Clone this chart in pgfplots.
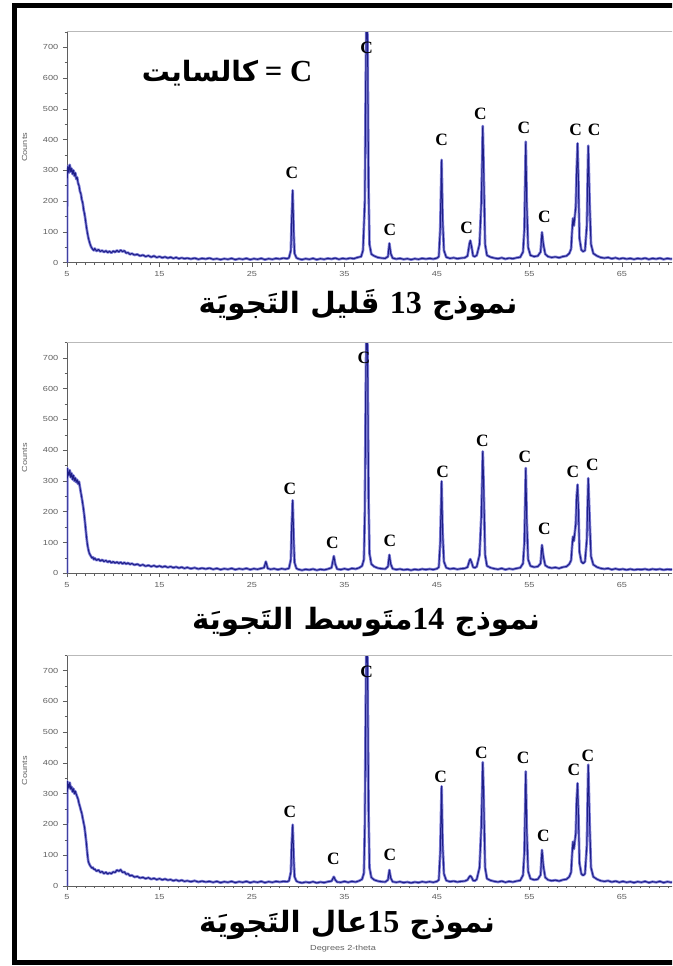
\documentclass[border=0pt]{standalone}
\usepackage{fontspec}
\setmainfont{Liberation Serif}
\newfontfamily\arabicfont[Script=Arabic]{DejaVu Sans}
\newfontfamily\tickfont[FakeStretch=1.25]{Liberation Sans}
\usepackage{pgfplots}
\usepackage{pgfplotstable}
\pgfplotsset{compat=1.18}
\TeXXeTstate=1
\definecolor{xrdline}{RGB}{30,30,135}
\definecolor{xrdhalo}{RGB}{125,125,215}
\definecolor{axgray}{RGB}{95,95,95}

% one scan per sample: 2-theta, counts
\pgfplotstableread{
x y
5.00 0
5.03 305
5.10 314
5.20 292
5.30 318
5.40 296
5.50 306
5.60 288
5.70 300
5.80 282
5.90 292
6.00 272
6.10 277
6.20 258
6.30 250
6.40 232
6.50 224
6.60 205
6.70 194
6.80 172
6.90 158
7.00 138
7.10 116
7.20 98
7.30 82
7.40 70
7.50 60
7.60 52
7.70 47
7.80 43
7.90 40
8.00 46
8.20 38
8.40 43
8.60 36
8.80 40
9.00 34
9.20 39
9.40 33
9.60 37
9.80 32
10.0 38
10.2 34
10.4 40
10.6 35
10.8 41
11.0 36
11.2 39
11.4 31
11.6 33
11.8 27
12.0 30
12.3 25
12.6 27
12.9 22
13.2 25
13.5 20
13.8 23
14.1 18
14.4 22
14.7 17
15.0 20
15.3 16
15.6 19
15.9 15
16.2 18
16.5 14
16.8 17
17.1 13
17.4 16
17.7 13
18.0 15
18.4 12
18.8 15
19.2 11
19.6 14
20.0 12
20.4 15
20.8 11
21.2 13
21.6 10
22.0 13
22.4 11
22.8 14
23.2 10
23.6 13
24.0 11
24.4 14
24.8 10
25.2 13
25.6 11
26.0 14
26.4 10
26.8 13
27.2 11
27.6 14
28.0 12
28.4 15
28.8 13
29.0 16
29.2 40
29.3 150
29.4 235
29.5 110
29.6 30
29.8 16
30.0 13
30.4 10
30.8 13
31.2 11
31.6 14
32.0 10
32.4 13
32.8 11
33.2 14
33.6 12
34.0 15
34.4 11
34.8 14
35.2 12
35.6 15
36.0 13
36.4 17
36.8 20
37.0 40
37.2 200
37.3 600
37.4 900
37.5 700
37.6 250
37.7 60
37.9 28
38.2 22
38.6 17
39.0 15
39.4 14
39.7 20
39.85 63
40.0 30
40.2 15
40.6 12
41.0 14
41.4 11
41.8 13
42.2 10
42.6 13
43.0 11
43.4 14
43.8 12
44.2 14
44.6 12
45.0 15
45.2 20
45.35 110
45.5 334
45.6 150
45.75 40
46.0 18
46.4 14
46.8 16
47.2 13
47.6 15
48.0 16
48.3 22
48.5 60
48.6 72
48.75 50
48.9 22
49.1 20
49.3 24
49.6 60
49.8 200
49.95 444
50.05 300
50.2 60
50.4 24
50.8 18
51.2 15
51.6 13
52.0 16
52.4 12
52.8 15
53.2 13
53.6 16
54.0 18
54.3 35
54.45 110
54.6 393
54.7 200
54.85 50
55.1 24
55.5 20
55.9 22
56.2 35
56.35 99
56.5 60
56.7 28
57.0 20
57.4 17
57.8 19
58.2 16
58.6 20
59.0 22
59.3 30
59.5 45
59.6 100
59.7 144
59.8 120
60.0 180
60.1 300
60.2 388
60.3 250
60.4 80
60.6 42
60.8 36
61.0 40
61.2 120
61.35 380
61.5 200
61.65 60
61.9 30
62.3 22
62.7 17
63.1 15
63.5 17
63.9 13
64.3 16
64.7 12
65.1 15
65.5 12
65.9 14
66.3 11
66.7 14
67.1 12
67.5 15
67.9 11
68.3 14
68.7 12
69.1 15
69.5 11
69.9 14
70.3 12
70.7 14
71.1 12
71.5 13
72.0 12
}\scanA

\pgfplotstableread{
x y
5.00 0
5.03 342
5.10 330
5.20 318
5.30 335
5.40 312
5.50 325
5.60 305
5.70 318
5.80 300
5.90 310
6.00 296
6.10 304
6.20 290
6.30 298
6.40 280
6.50 262
6.60 245
6.70 226
6.80 205
6.90 180
7.00 150
7.10 120
7.20 95
7.30 78
7.40 66
7.50 60
7.60 55
7.70 50
7.80 52
7.90 45
8.00 49
8.20 42
8.40 46
8.60 40
8.80 44
9.00 38
9.20 42
9.40 36
9.60 40
9.80 34
10.0 38
10.2 33
10.4 37
10.6 32
10.8 36
11.0 31
11.2 35
11.4 30
11.6 34
11.8 29
12.0 32
12.3 27
12.6 30
12.9 25
13.2 28
13.5 23
13.8 26
14.1 22
14.4 25
14.7 21
15.0 24
15.3 20
15.6 23
15.9 19
16.2 22
16.5 18
16.8 21
17.1 17
17.4 20
17.7 16
18.0 19
18.4 15
18.8 18
19.2 14
19.6 17
20.0 14
20.4 17
20.8 13
21.2 16
21.6 12
22.0 15
22.4 13
22.8 16
23.2 12
23.6 15
24.0 13
24.4 16
24.8 12
25.2 15
25.6 13
26.0 16
26.3 18
26.5 38
26.7 16
27.0 13
27.4 15
27.8 12
28.2 15
28.6 13
29.0 16
29.2 45
29.3 160
29.4 237
29.5 120
29.6 35
29.8 16
30.0 13
30.4 10
30.8 13
31.2 11
31.6 14
32.0 10
32.4 13
32.8 11
33.2 14
33.6 18
33.85 56
34.0 30
34.2 14
34.6 12
35.0 15
35.4 12
35.8 16
36.2 14
36.6 18
36.9 24
37.1 45
37.2 200
37.3 600
37.4 900
37.5 700
37.6 250
37.7 65
37.9 30
38.2 22
38.6 17
39.0 15
39.4 14
39.7 22
39.85 60
40.0 30
40.2 15
40.6 12
41.0 14
41.4 11
41.8 13
42.2 10
42.6 13
43.0 11
43.4 14
43.8 12
44.2 14
44.6 12
45.0 15
45.2 20
45.35 100
45.5 299
45.6 140
45.75 38
46.0 18
46.4 14
46.8 16
47.2 13
47.6 15
48.0 16
48.3 20
48.5 40
48.6 46
48.75 35
48.9 20
49.1 18
49.3 22
49.6 60
49.8 190
49.95 396
50.05 280
50.2 60
50.4 24
50.8 18
51.2 15
51.6 13
52.0 16
52.4 12
52.8 15
53.2 13
53.6 16
54.0 18
54.3 32
54.45 100
54.6 342
54.7 180
54.85 45
55.1 24
55.5 20
55.9 22
56.2 32
56.35 92
56.5 55
56.7 26
57.0 20
57.4 17
57.8 19
58.2 16
58.6 20
59.0 22
59.3 30
59.5 42
59.6 85
59.7 119
59.8 105
60.0 160
60.1 250
60.2 288
60.3 200
60.4 70
60.6 38
60.8 32
61.0 38
61.2 110
61.35 309
61.5 180
61.65 55
61.9 28
62.3 20
62.7 16
63.1 14
63.5 16
63.9 12
64.3 15
64.7 12
65.1 14
65.5 11
65.9 14
66.3 11
66.7 13
67.1 12
67.5 14
67.9 11
68.3 14
68.7 12
69.1 14
69.5 11
69.9 13
70.3 12
70.7 14
71.1 12
71.5 13
72.0 12
}\scanB

\pgfplotstableread{
x y
5.00 0
5.03 340
5.10 332
5.20 318
5.30 336
5.40 315
5.50 322
5.60 306
5.70 316
5.80 300
5.90 308
6.00 298
6.10 290
6.20 282
6.30 268
6.40 258
6.50 246
6.60 236
6.70 220
6.80 205
6.90 190
7.00 165
7.10 138
7.20 105
7.30 80
7.40 72
7.50 66
7.60 62
7.70 58
7.80 60
7.90 54
8.00 55
8.20 48
8.40 52
8.60 44
8.80 47
9.00 40
9.20 45
9.40 39
9.60 43
9.80 40
10.0 46
10.2 44
10.4 52
10.6 48
10.8 53
11.0 44
11.2 46
11.4 38
11.6 40
11.8 33
12.0 35
12.3 29
12.6 31
12.9 26
13.2 28
13.5 24
13.8 27
14.1 22
14.4 25
14.7 21
15.0 24
15.3 20
15.6 23
15.9 19
16.2 21
16.5 17
16.8 20
17.1 16
17.4 19
17.7 15
18.0 17
18.4 14
18.8 17
19.2 13
19.6 16
20.0 13
20.4 15
20.8 12
21.2 15
21.6 11
22.0 14
22.4 12
22.8 15
23.2 11
23.6 14
24.0 12
24.4 15
24.8 11
25.2 14
25.6 12
26.0 15
26.4 11
26.8 14
27.2 12
27.6 15
28.0 13
28.4 15
28.8 14
29.0 17
29.2 45
29.3 140
29.4 199
29.5 100
29.6 30
29.8 16
30.0 13
30.4 10
30.8 13
31.2 11
31.6 14
32.0 10
32.4 13
32.8 11
33.2 14
33.6 16
33.85 30
34.0 20
34.2 13
34.6 12
35.0 15
35.4 12
35.8 15
36.2 13
36.6 17
36.9 22
37.1 42
37.2 200
37.3 600
37.4 900
37.5 700
37.6 250
37.7 60
37.9 28
38.2 20
38.6 16
39.0 14
39.4 13
39.7 20
39.85 52
40.0 26
40.2 14
40.6 12
41.0 14
41.4 11
41.8 13
42.2 10
42.6 13
43.0 11
43.4 14
43.8 12
44.2 14
44.6 12
45.0 15
45.2 20
45.35 110
45.5 324
45.6 145
45.75 40
46.0 18
46.4 14
46.8 16
47.2 13
47.6 15
48.0 16
48.3 20
48.5 30
48.6 33
48.75 28
48.9 18
49.1 17
49.3 22
49.6 60
49.8 200
49.95 402
50.05 290
50.2 60
50.4 24
50.8 18
51.2 15
51.6 13
52.0 16
52.4 12
52.8 15
53.2 13
53.6 16
54.0 18
54.3 35
54.45 110
54.6 372
54.7 190
54.85 48
55.1 24
55.5 20
55.9 22
56.2 36
56.35 117
56.5 65
56.7 28
57.0 20
57.4 17
57.8 19
58.2 16
58.6 20
59.0 22
59.3 30
59.5 45
59.6 100
59.7 144
59.8 120
60.0 170
60.1 280
60.2 334
60.3 220
60.4 75
60.6 40
60.8 34
61.0 40
61.2 130
61.35 394
61.5 210
61.65 60
61.9 30
62.3 22
62.7 17
63.1 15
63.5 17
63.9 13
64.3 16
64.7 12
65.1 15
65.5 12
65.9 14
66.3 11
66.7 14
67.1 12
67.5 15
67.9 11
68.3 14
68.7 12
69.1 15
69.5 11
69.9 14
70.3 12
70.7 14
71.1 12
71.5 13
72.0 12
}\scanC

\pgfplotsset{
  xrd/.style={
    scale only axis, width=464.8pt, height=173.1pt,
    xmin=5, xmax=72, ymin=0, ymax=750,
    axis x line*=bottom, axis y line*=left,
    axis line style={-, axgray, line width=0.6pt},
    xtick={5,15,...,65}, minor xtick={5,6,...,72},
    ytick={0,100,...,700}, minor ytick={50,150,...,750},
    tick align=outside, major tick length=3pt, minor tick length=1.8pt,
    every tick/.style={axgray, line width=0.45pt},
    ticklabel style={font=\tickfont\fontsize{5.5}{6}\selectfont, text=axgray},
    /pgf/number format/assume math mode=true,
    ylabel={Counts},
    ylabel style={font=\tickfont\fontsize{5.5}{6}\selectfont, text=axgray, yshift=5pt},
    anchor=south west,
  },
  scanhalo/.style={xrdhalo, line width=2.0pt, line join=round},
  scanline/.style={xrdline, line width=0.75pt, line join=round},
}
\newcommand{\clab}[2]{\node[font=\bfseries\fontsize{13}{13}\selectfont, inner sep=0pt] at (axis cs:#1,#2) {C};}

\begin{document}
\begin{tikzpicture}[x=0.75pt,y=0.75pt]
\path[use as bounding box, clip] (0,0) rectangle (672,966);
\coordinate (oa) at (67,703.3);
\coordinate (ob) at (67,392.7);
\coordinate (oc) at (67,80);

% sample 13
\begin{axis}[xrd, name=pa, at={(oa)}]
\addplot[scanhalo] table {\scanA};
\addplot[scanline] table {\scanA};
\clab{29.3}{291}\clab{37.4}{698}\clab{39.9}{106}\clab{45.5}{398}\clab{48.2}{112}
\clab{49.7}{483}\clab{54.4}{439}\clab{56.6}{150}\clab{60.0}{431}\clab{62.0}{431}
\node[inner sep=0pt] at (axis cs:22.3,617)
  {{\arabicfont\bfseries\fontsize{21}{22}\selectfont\beginR كالسايت\endR}\hspace{5pt}{\bfseries\fontsize{23}{24}\selectfont = C}};
\end{axis}

% sample 14
\begin{axis}[xrd, name=pb, at={(ob)}]
\addplot[scanhalo] table {\scanB};
\addplot[scanline] table {\scanB};
\clab{29.1}{274}\clab{33.7}{100}\clab{37.1}{700}\clab{39.9}{105}\clab{45.6}{331}
\clab{49.9}{431}\clab{54.5}{378}\clab{56.6}{144}\clab{59.7}{331}\clab{61.8}{353}
\end{axis}

% sample 15
\begin{axis}[xrd, name=pc, at={(oc)}]
\addplot[scanhalo] table {\scanC};
\addplot[scanline] table {\scanC};
\clab{29.1}{240}\clab{33.8}{88}\clab{37.4}{695}\clab{39.9}{101}\clab{45.4}{354}
\clab{49.8}{432}\clab{54.3}{418}\clab{56.5}{163}\clab{59.8}{376}\clab{61.3}{423}
\end{axis}

\foreach \p in {pa,pb,pc}{\draw[gray!55, line width=0.6pt] (\p.north west) -- (\p.north east);}

\node[font=\arabicfont\bfseries\fontsize{22}{24}\selectfont] at (358,661)
  {\beginR نموذج {\rmfamily\bfseries\fontsize{24}{24}\selectfont\beginL 13\endL} قَليل التَجويَة\endR};
\node[font=\arabicfont\bfseries\fontsize{22}{24}\selectfont] at (366,344)
  {\beginR نموذج {\rmfamily\bfseries\fontsize{24}{24}\selectfont\beginL 14\endL}متَوسط التَجويَة\endR};
\node[font=\arabicfont\bfseries\fontsize{22}{24}\selectfont] at (347,41)
  {\beginR نموذج {\rmfamily\bfseries\fontsize{24}{24}\selectfont\beginL 15\endL}عال التَجويَة\endR};
\node[font=\tickfont\fontsize{5.5}{6}\selectfont, text=axgray] at (343,17) {Degrees 2-theta};

\draw[line width=3.75pt] (14,3) rectangle (720,960.5);
\end{tikzpicture}
\end{document}
